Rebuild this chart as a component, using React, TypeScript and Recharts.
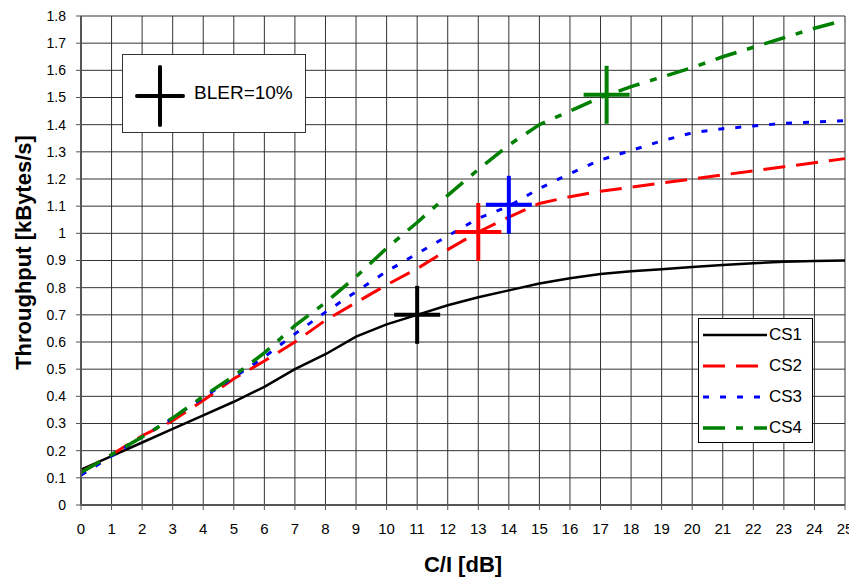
import {
  ComposedChart, Line, XAxis, YAxis, CartesianGrid, ReferenceDot, Label,
} from "recharts";

const X_VALUES = [0, 1, 2, 3, 4, 5, 6, 7, 8, 9, 10, 11, 12, 13, 14, 15, 16, 17, 18, 19, 20, 21, 22, 23, 24, 25];
const CS1 = [0.13, 0.18, 0.23, 0.28, 0.33, 0.38, 0.435, 0.5, 0.555, 0.62, 0.665, 0.7, 0.735, 0.765, 0.79, 0.815, 0.835, 0.85, 0.86, 0.868, 0.876, 0.883, 0.89, 0.895, 0.898, 0.9];
const CS2 = [0.12, 0.185, 0.255, 0.31, 0.385, 0.465, 0.53, 0.6, 0.68, 0.745, 0.81, 0.87, 0.94, 1.005, 1.06, 1.11, 1.135, 1.155, 1.17, 1.185, 1.2, 1.215, 1.23, 1.245, 1.26, 1.275];
const CS3 = [0.11, 0.18, 0.25, 0.32, 0.395, 0.47, 0.545, 0.63, 0.71, 0.785, 0.86, 0.925, 0.99, 1.055, 1.1, 1.165, 1.22, 1.27, 1.305, 1.34, 1.37, 1.385, 1.395, 1.405, 1.41, 1.415];
const CS4 = [0.12, 0.185, 0.25, 0.32, 0.4, 0.475, 0.56, 0.66, 0.745, 0.84, 0.945, 1.04, 1.14, 1.235, 1.325, 1.4, 1.45, 1.5, 1.54, 1.575, 1.61, 1.65, 1.685, 1.72, 1.755, 1.785];

// BLER = 10% operating point of each coding scheme
const BLER_X = [11, 13, 14, 17.2];
const BLER_Y = [0.7, 1.005, 1.105, 1.51];

const X_TICKS = X_VALUES;
const Y_TICKS = [0, 0.1, 0.2, 0.3, 0.4, 0.5, 0.6, 0.7, 0.8, 0.9, 1, 1.1, 1.2, 1.3, 1.4, 1.5, 1.6, 1.7, 1.8];

const SERIES = [
  { key: "cs1", name: "CS1", color: "#000000", dash: undefined, width: 2.5 },
  { key: "cs2", name: "CS2", color: "#ff0000", dash: "22 11", width: 3 },
  { key: "cs3", name: "CS3", color: "#0000ff", dash: "6 11", width: 3 },
  { key: "cs4", name: "CS4", color: "#008000", dash: "22 11 7 11", width: 3.5 },
];

const data = X_VALUES.map((x, i) => ({ x, cs1: CS1[i], cs2: CS2[i], cs3: CS3[i], cs4: CS4[i] }));

const FONT = "'Liberation Sans', Arial, sans-serif";
const GRID = "#333333";

function Cross({ cx, cy, color, hw = 23, hh = 29, cap = "butt" }: any) {
  if (cx == null || cy == null) return null;
  return (
    <g stroke={color} strokeWidth={4} strokeLinecap={cap}>
      <line x1={cx - hw} y1={cy} x2={cx + hw} y2={cy} />
      <line x1={cx} y1={cy - hh} x2={cx} y2={cy + hh} />
    </g>
  );
}

function YTitle({ viewBox }: any) {
  const x = viewBox.x + 15;
  const y = viewBox.y + viewBox.height / 2 - 8;
  return (
    <text
      x={x}
      y={y}
      transform={`rotate(-90, ${x}, ${y})`}
      textAnchor="middle"
      dominantBaseline="central"
      fontSize={22}
      fontWeight="bold"
      fill="#000"
    >
      Throughput [kBytes/s]
    </text>
  );
}

function SeriesLegend() {
  return (
    <div
      style={{
        position: "absolute", left: 690, top: 310, width: 115, height: 125,
        background: "#fff", border: "1.5px solid #000", boxSizing: "border-box",
      }}
    >
      {SERIES.map((s, i) => (
        <div key={s.key} style={{ position: "absolute", left: 4, top: 4 + i * 31, height: 24, display: "flex", alignItems: "center" }}>
          <svg width={64} height={8}>
            <line x1={0} y1={4} x2={64} y2={4} stroke={s.color} strokeWidth={s.width} strokeDasharray={s.dash} />
          </svg>
          <span style={{ fontSize: 17, marginLeft: 2, color: "#000" }}>{s.name}</span>
        </div>
      ))}
    </div>
  );
}

function BlerBox() {
  return (
    <div
      style={{
        position: "absolute", left: 114, top: 46, width: 184, height: 79,
        background: "#fff", border: "1px solid #333", boxSizing: "border-box",
      }}
    >
      <svg width={80} height={79} style={{ position: "absolute", left: 0, top: 0 }}>
        <Cross cx={37} cy={41} color="#000" cap="round" />
      </svg>
      <span style={{ position: "absolute", left: 71, top: 26, fontSize: 19, lineHeight: "24px", color: "#000" }}>
        BLER=10%
      </span>
    </div>
  );
}

export default function App() {
  return (
    <div style={{ position: "relative", width: 849, height: 569, fontFamily: FONT, background: "#fff" }}>
      <ComposedChart width={849} height={569} data={data} margin={{ top: 8, right: 12, bottom: 0, left: 0 }}>
        <CartesianGrid stroke={GRID} strokeWidth={1} />
        <XAxis
          dataKey="x"
          type="number"
          domain={[0, 25]}
          ticks={X_TICKS}
          interval={0}
          height={72}
          tickSize={5}
          tickMargin={13}
          tick={{ fontSize: 15, fill: "#000" }}
          axisLine={{ stroke: "#555", strokeWidth: 2 }}
          tickLine={{ stroke: "#555" }}
        >
          <Label value="C/I [dB]" position="insideBottom" offset={5} style={{ fontSize: 22, fontWeight: "bold", fill: "#000" }} />
        </XAxis>
        <YAxis
          type="number"
          domain={[0, 1.8]}
          ticks={Y_TICKS}
          interval={0}
          width={73}
          tickSize={5}
          tickMargin={10}
          tick={{ fontSize: 14, fill: "#000" }}
          axisLine={{ stroke: "#555", strokeWidth: 2 }}
          tickLine={{ stroke: "#555" }}
        >
          <Label content={<YTitle />} />
        </YAxis>
        {SERIES.map((s) => (
          <Line
            key={s.key}
            dataKey={s.key}
            name={s.name}
            type="linear"
            stroke={s.color}
            strokeWidth={s.width}
            strokeDasharray={s.dash}
            dot={false}
            activeDot={false}
            isAnimationActive={false}
          />
        ))}
        {BLER_X.map((x, i) => (
          <ReferenceDot
            key={`bler-${i}`}
            x={x}
            y={BLER_Y[i]}
            shape={(p: any) => <Cross cx={p.cx} cy={p.cy} color={SERIES[i].color} />}
          />
        ))}
      </ComposedChart>
      <BlerBox />
      <SeriesLegend />
    </div>
  );
}
